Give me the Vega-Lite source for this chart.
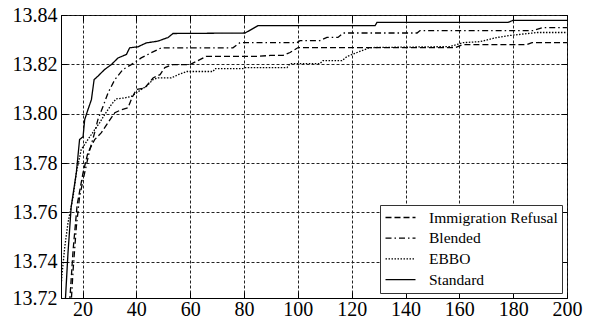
{
  "$schema": "https://vega.github.io/schema/vega-lite/v6.json",
  "autosize": {"type": "none"},
  "padding": {"left": 61, "top": 15, "right": 29, "bottom": 21},
  "width": 506,
  "height": 283,
  "background": "white",
  "config": {
    "font": "Liberation Serif, Times New Roman, serif",
    "view": {"stroke": "black", "strokeWidth": 1},
    "axis": {
      "labelFont": "Liberation Serif, Times New Roman, serif",
      "labelFontSize": 20,
      "labelColor": "black",
      "domainColor": "black",
      "tickColor": "black",
      "tickSize": -6,
      "title": null,
      "gridColor": "#222222",
      "gridDash": [3, 2],
      "gridWidth": 1
    },
    "legend": {
      "labelFont": "Liberation Serif, Times New Roman, serif"
    }
  },
  "data": {
    "values": [
      {"s": "Immigration Refusal", "x": 15.0, "y": 13.72},
      {"s": "Immigration Refusal", "x": 16.5, "y": 13.7448},
      {"s": "Immigration Refusal", "x": 18.0, "y": 13.7631},
      {"s": "Immigration Refusal", "x": 20.2, "y": 13.7761},
      {"s": "Immigration Refusal", "x": 22.0, "y": 13.7842},
      {"s": "Immigration Refusal", "x": 24.5, "y": 13.7895},
      {"s": "Immigration Refusal", "x": 27.0, "y": 13.7923},
      {"s": "Immigration Refusal", "x": 29.5, "y": 13.7964},
      {"s": "Immigration Refusal", "x": 32.0, "y": 13.8004},
      {"s": "Immigration Refusal", "x": 34.4, "y": 13.8016},
      {"s": "Immigration Refusal", "x": 36.9, "y": 13.8024},
      {"s": "Immigration Refusal", "x": 38.4, "y": 13.8065},
      {"s": "Immigration Refusal", "x": 40.0, "y": 13.8098},
      {"s": "Immigration Refusal", "x": 43.1, "y": 13.8104},
      {"s": "Immigration Refusal", "x": 46.2, "y": 13.8145},
      {"s": "Immigration Refusal", "x": 48.8, "y": 13.8158},
      {"s": "Immigration Refusal", "x": 50.6, "y": 13.8187},
      {"s": "Immigration Refusal", "x": 53.6, "y": 13.8199},
      {"s": "Immigration Refusal", "x": 59.9, "y": 13.8199},
      {"s": "Immigration Refusal", "x": 63.6, "y": 13.8219},
      {"s": "Immigration Refusal", "x": 65.9, "y": 13.8232},
      {"s": "Immigration Refusal", "x": 84.1, "y": 13.8232},
      {"s": "Immigration Refusal", "x": 89.7, "y": 13.8236},
      {"s": "Immigration Refusal", "x": 94.5, "y": 13.8236},
      {"s": "Immigration Refusal", "x": 97.1, "y": 13.8248},
      {"s": "Immigration Refusal", "x": 100.1, "y": 13.8268},
      {"s": "Immigration Refusal", "x": 158.5, "y": 13.8268},
      {"s": "Immigration Refusal", "x": 161.2, "y": 13.828},
      {"s": "Immigration Refusal", "x": 185.1, "y": 13.828},
      {"s": "Immigration Refusal", "x": 187.0, "y": 13.8288},
      {"s": "Immigration Refusal", "x": 200, "y": 13.8288},

      {"s": "Blended", "x": 15.6, "y": 13.72},
      {"s": "Blended", "x": 16.5, "y": 13.7367},
      {"s": "Blended", "x": 17.7, "y": 13.7541},
      {"s": "Blended", "x": 18.9, "y": 13.7663},
      {"s": "Blended", "x": 20.8, "y": 13.7761},
      {"s": "Blended", "x": 22.7, "y": 13.7854},
      {"s": "Blended", "x": 24.5, "y": 13.7923},
      {"s": "Blended", "x": 25.7, "y": 13.7976},
      {"s": "Blended", "x": 27.6, "y": 13.8029},
      {"s": "Blended", "x": 29.5, "y": 13.8085},
      {"s": "Blended", "x": 32.0, "y": 13.8138},
      {"s": "Blended", "x": 35.0, "y": 13.8179},
      {"s": "Blended", "x": 38.1, "y": 13.8199},
      {"s": "Blended", "x": 41.8, "y": 13.8226},
      {"s": "Blended", "x": 45.5, "y": 13.8247},
      {"s": "Blended", "x": 49.3, "y": 13.8267},
      {"s": "Blended", "x": 75.9, "y": 13.8267},
      {"s": "Blended", "x": 78.5, "y": 13.8288},
      {"s": "Blended", "x": 99.7, "y": 13.8288},
      {"s": "Blended", "x": 100.8, "y": 13.8296},
      {"s": "Blended", "x": 108.2, "y": 13.8296},
      {"s": "Blended", "x": 110.8, "y": 13.8309},
      {"s": "Blended", "x": 114.9, "y": 13.8309},
      {"s": "Blended", "x": 116.8, "y": 13.8327},
      {"s": "Blended", "x": 144.3, "y": 13.8327},
      {"s": "Blended", "x": 145.4, "y": 13.8337},
      {"s": "Blended", "x": 187.4, "y": 13.8337},
      {"s": "Blended", "x": 191.1, "y": 13.8349},
      {"s": "Blended", "x": 200, "y": 13.8349},

      {"s": "EBBO", "x": 11.8, "y": 13.726},
      {"s": "EBBO", "x": 12.4, "y": 13.7352},
      {"s": "EBBO", "x": 13.4, "y": 13.746},
      {"s": "EBBO", "x": 14.6, "y": 13.7558},
      {"s": "EBBO", "x": 16.5, "y": 13.7663},
      {"s": "EBBO", "x": 17.7, "y": 13.7761},
      {"s": "EBBO", "x": 19.5, "y": 13.7854},
      {"s": "EBBO", "x": 22.0, "y": 13.7895},
      {"s": "EBBO", "x": 24.5, "y": 13.7935},
      {"s": "EBBO", "x": 26.4, "y": 13.7964},
      {"s": "EBBO", "x": 28.2, "y": 13.7996},
      {"s": "EBBO", "x": 30.7, "y": 13.8037},
      {"s": "EBBO", "x": 32.5, "y": 13.806},
      {"s": "EBBO", "x": 35.7, "y": 13.8064},
      {"s": "EBBO", "x": 38.1, "y": 13.807},
      {"s": "EBBO", "x": 40.0, "y": 13.8084},
      {"s": "EBBO", "x": 41.8, "y": 13.8098},
      {"s": "EBBO", "x": 43.7, "y": 13.8111},
      {"s": "EBBO", "x": 46.2, "y": 13.8138},
      {"s": "EBBO", "x": 48.0, "y": 13.8145},
      {"s": "EBBO", "x": 53.0, "y": 13.8145},
      {"s": "EBBO", "x": 55.5, "y": 13.8158},
      {"s": "EBBO", "x": 58.8, "y": 13.8171},
      {"s": "EBBO", "x": 68.5, "y": 13.8171},
      {"s": "EBBO", "x": 69.2, "y": 13.8183},
      {"s": "EBBO", "x": 79.6, "y": 13.8183},
      {"s": "EBBO", "x": 80.4, "y": 13.8187},
      {"s": "EBBO", "x": 96.0, "y": 13.8187},
      {"s": "EBBO", "x": 97.1, "y": 13.8203},
      {"s": "EBBO", "x": 108.2, "y": 13.8203},
      {"s": "EBBO", "x": 109.3, "y": 13.8215},
      {"s": "EBBO", "x": 116.4, "y": 13.8215},
      {"s": "EBBO", "x": 118.3, "y": 13.8232},
      {"s": "EBBO", "x": 122.0, "y": 13.8248},
      {"s": "EBBO", "x": 126.8, "y": 13.8268},
      {"s": "EBBO", "x": 156.5, "y": 13.8272},
      {"s": "EBBO", "x": 161.4, "y": 13.8288},
      {"s": "EBBO", "x": 167.7, "y": 13.8292},
      {"s": "EBBO", "x": 174.0, "y": 13.8309},
      {"s": "EBBO", "x": 178.8, "y": 13.8317},
      {"s": "EBBO", "x": 188.9, "y": 13.8329},
      {"s": "EBBO", "x": 200, "y": 13.8329},

      {"s": "Standard", "x": 13.4, "y": 13.72},
      {"s": "Standard", "x": 14.6, "y": 13.7436},
      {"s": "Standard", "x": 15.8, "y": 13.7624},
      {"s": "Standard", "x": 17.7, "y": 13.7761},
      {"s": "Standard", "x": 18.9, "y": 13.7895},
      {"s": "Standard", "x": 20.2, "y": 13.7907},
      {"s": "Standard", "x": 20.8, "y": 13.7976},
      {"s": "Standard", "x": 22.0, "y": 13.8016},
      {"s": "Standard", "x": 23.3, "y": 13.8057},
      {"s": "Standard", "x": 24.3, "y": 13.8138},
      {"s": "Standard", "x": 25.7, "y": 13.8152},
      {"s": "Standard", "x": 28.2, "y": 13.8179},
      {"s": "Standard", "x": 30.7, "y": 13.8199},
      {"s": "Standard", "x": 33.2, "y": 13.8226},
      {"s": "Standard", "x": 36.3, "y": 13.824},
      {"s": "Standard", "x": 37.5, "y": 13.8267},
      {"s": "Standard", "x": 40.6, "y": 13.8271},
      {"s": "Standard", "x": 43.7, "y": 13.8287},
      {"s": "Standard", "x": 48.0, "y": 13.8294},
      {"s": "Standard", "x": 51.8, "y": 13.8309},
      {"s": "Standard", "x": 53.6, "y": 13.8325},
      {"s": "Standard", "x": 80.4, "y": 13.8327},
      {"s": "Standard", "x": 85.2, "y": 13.8357},
      {"s": "Standard", "x": 128.7, "y": 13.8357},
      {"s": "Standard", "x": 129.4, "y": 13.837},
      {"s": "Standard", "x": 178.1, "y": 13.837},
      {"s": "Standard", "x": 179.9, "y": 13.8378},
      {"s": "Standard", "x": 200, "y": 13.8378}
    ]
  },
  "layer": [
    {
      "mark": {"type": "line", "clip": true, "color": "black"},
      "encoding": {
        "x": {
          "field": "x", "type": "quantitative",
          "scale": {"domain": [12, 200], "nice": false, "zero": false},
          "axis": {
            "values": [20, 40, 60, 80, 100, 120, 140, 160, 180, 200],
            "grid": true, "labelFlush": false, "labelPadding": 7.5,
            "labelAngle": 0
          }
        },
        "y": {
          "field": "y", "type": "quantitative",
          "scale": {"domain": [13.7253, 13.84], "nice": false, "zero": false},
          "axis": {
            "values": [13.7253, 13.74, 13.76, 13.78, 13.8, 13.82, 13.84],
            "labelExpr": "datum.value < 13.73 ? '13.72' : format(datum.value, '.2f')",
            "grid": true, "labelPadding": 10
          }
        },
        "strokeDash": {
          "field": "s", "type": "nominal",
          "scale": {
            "domain": ["Immigration Refusal", "Blended", "EBBO", "Standard"],
            "range": [[6, 3], [6, 3, 1.5, 3], [1.5, 1.5], [1, 0]]
          },
          "legend": {
            "title": null,
            "orient": "bottom-right",
            "offset": 5,
            "labelFont": "Liberation Serif, Times New Roman, serif",
            "labelFontSize": 15.5,
            "labelColor": "black",
            "symbolType": "M-2,0H2",
            "symbolSize": 225,
            "symbolOffset": 8,
            "symbolStrokeColor": "black",
            "symbolStrokeWidth": 1.4,
            "labelOffset": 20,
            "rowPadding": 3.7,
            "padding": 4,
            "strokeColor": "#333333",
            "fillColor": "white",
            "cornerRadius": 0
          }
        },
        "strokeWidth": {
          "field": "s", "type": "nominal",
          "scale": {
            "domain": ["Immigration Refusal", "Blended", "EBBO", "Standard"],
            "range": [1.3, 1.3, 1.3, 1.8]
          },
          "legend": null
        }
      }
    },
    {
      "mark": {"type": "line", "clip": true, "opacity": 0},
      "encoding": {
        "x": {
          "field": "x", "type": "quantitative",
          "axis": {
            "orient": "top", "labels": false, "grid": false, "domain": false,
            "values": [20, 40, 60, 80, 100, 120, 140, 160, 180, 200]
          }
        },
        "y": {
          "field": "y", "type": "quantitative",
          "axis": {
            "orient": "right", "labels": false, "grid": false, "domain": false,
            "values": [13.74, 13.76, 13.78, 13.8, 13.82, 13.84]
          }
        },
        "detail": {"field": "s", "type": "nominal"}
      }
    }
  ],
  "resolve": {"axis": {"x": "independent", "y": "independent"}}
}
